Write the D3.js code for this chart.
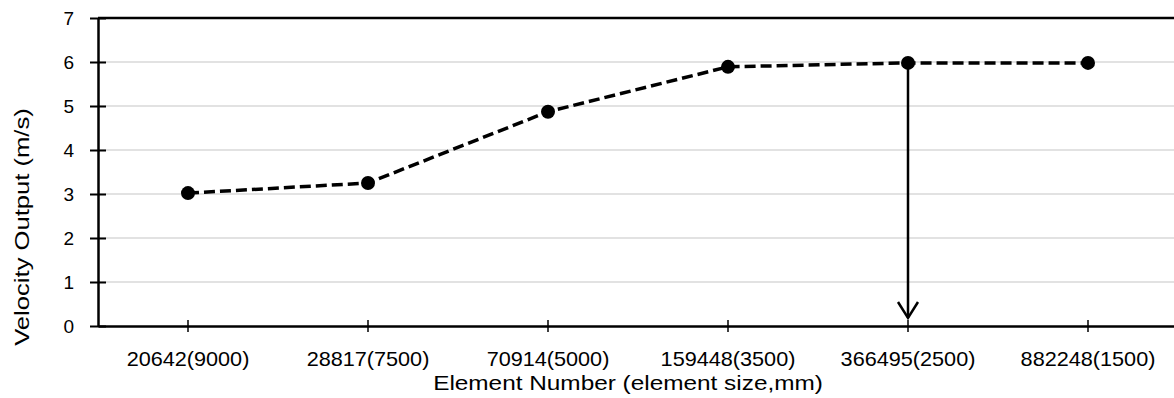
<!DOCTYPE html>
<html>
<head>
<meta charset="utf-8">
<script src="https://cdn.jsdelivr.net/npm/d3@7"></script>
<style>
  html, body { margin: 0; padding: 0; background: #fff; }
  svg { display: block; }
  text { font-family: "Liberation Sans", Arial, sans-serif; fill: #000; }
</style>
</head>
<body>
<svg id="chart" width="1174" height="398"></svg>
<script>
const categories = ["20642(9000)", "28817(7500)", "70914(5000)", "159448(3500)", "366495(2500)", "882248(1500)"];
const velocity = [3.02, 3.25, 4.87, 5.89, 5.98, 5.98];
const yTicks = [0, 1, 2, 3, 4, 5, 6, 7];
const arrowCategory = "366495(2500)";
const xTitle = "Element Number (element size,mm)";
const yTitle = "Velocity Output (m/s)";

const W = 1174, H = 398;
const m = { left: 98, right: -4, top: 18, bottom: 72 };
const svg = d3.select("#chart");

const x = d3.scaleBand().domain(categories).range([m.left, W - m.right]).paddingInner(0).paddingOuter(0);
const y = d3.scaleLinear().domain([0, 7]).range([H - m.bottom, m.top]);
const cx = d => x(d) + x.bandwidth() / 2;

// gridlines
svg.append("g").selectAll("line").data(yTicks.filter(t => t > 0 && t < 7)).join("line")
  .attr("x1", m.left).attr("x2", W).attr("y1", d => y(d)).attr("y2", d => y(d))
  .attr("stroke", "#d9d9d9").attr("stroke-width", 1.5);

// top border
svg.append("line").attr("x1", m.left).attr("x2", W).attr("y1", y(7)).attr("y2", y(7))
  .attr("stroke", "#000").attr("stroke-width", 2.5);

// y axis
const yAxis = svg.append("g").attr("transform", `translate(${m.left},0)`)
  .call(d3.axisLeft(y).tickValues(yTicks).tickSize(8).tickPadding(16).tickSizeOuter(0).tickFormat(d3.format("d")));
yAxis.select(".domain").attr("stroke", "#000").attr("stroke-width", 2.5);
yAxis.selectAll(".tick line").attr("stroke", "#000").attr("stroke-width", 2).attr("x1", 8).attr("x2", -8);
yAxis.selectAll("text").style("font-size", "19px").attr("dy", "0.36em");

// x axis
const xAxis = svg.append("g").attr("transform", `translate(0,${y(0)})`)
  .call(d3.axisBottom(x).tickSize(6).tickPadding(19.5).tickSizeOuter(0));
xAxis.select(".domain").attr("stroke", "#000").attr("stroke-width", 2.5);
xAxis.selectAll(".tick line").attr("stroke", "#000").attr("stroke-width", 1.5).attr("y1", -6).attr("y2", 6);
xAxis.selectAll("text").style("font-size", "20px").attr("transform", "scale(1.083,1)");

// dashed line
const line = d3.line().x((d, i) => cx(categories[i])).y(d => y(d));
svg.append("path").datum(velocity).attr("d", line)
  .attr("fill", "none").attr("stroke", "#000").attr("stroke-width", 3.5)
  .attr("stroke-dasharray", "11,5");

// arrow
const ai = categories.indexOf(arrowCategory);
const ax = cx(arrowCategory);
const ay0 = y(velocity[ai]);
const ay1 = y(0) - 8;
svg.append("line").attr("x1", ax).attr("x2", ax).attr("y1", ay0).attr("y2", ay1)
  .attr("stroke", "#000").attr("stroke-width", 2.5);
svg.append("path")
  .attr("d", `M${ax - 10},${ay1 - 16} L${ax},${ay1} L${ax + 10},${ay1 - 16}`)
  .attr("fill", "none").attr("stroke", "#000").attr("stroke-width", 2.5);

// markers
svg.append("g").selectAll("circle").data(velocity).join("circle")
  .attr("cx", (d, i) => cx(categories[i])).attr("cy", d => y(d)).attr("r", 7).attr("fill", "#000");

// titles
svg.append("text").attr("transform", "translate(628,389.5) scale(1.16,1)").attr("text-anchor", "middle")
  .style("font-size", "21px").text(xTitle);
svg.append("text").attr("transform", `translate(28.5,227) rotate(-90) scale(1.22,1)`).attr("text-anchor", "middle")
  .style("font-size", "21px").text(yTitle);
</script>
</body>
</html>
